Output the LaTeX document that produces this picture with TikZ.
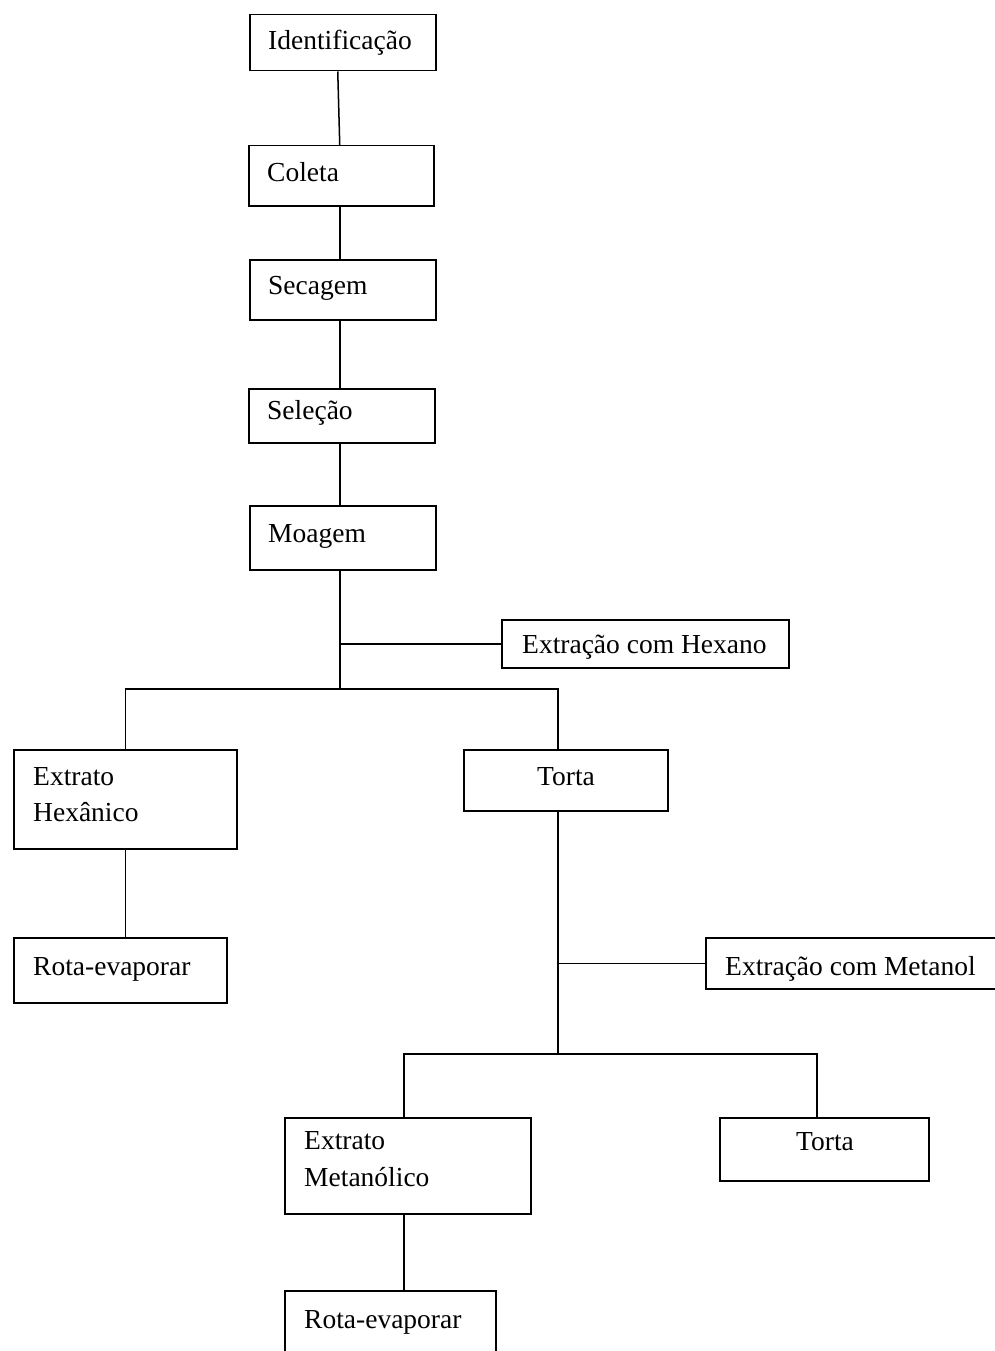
\documentclass[tikz,border=0pt]{standalone}
\usepackage{fontspec}
\setmainfont{Liberation Serif}
\tikzset{
  box/.style={draw, line width=1.5pt, rectangle, inner sep=0pt, anchor=north west},
  lbl/.style={anchor=base west, inner sep=0pt, font=\fontsize{27.5}{33}\selectfont},
  lblc/.style={anchor=base, inner sep=0pt, font=\fontsize{27.5}{33}\selectfont},
  conn/.style={line width=1.5pt}
}
\begin{document}
\begin{tikzpicture}[x=1pt,y=-1pt]
\useasboundingbox (0,0) rectangle (995,1351);
% boxes
\node[box, minimum width=186pt, minimum height=56pt] (idf) at (249,14) {};
\node[box, minimum width=185pt, minimum height=60pt] (col) at (248,145) {};
\node[box, minimum width=186pt, minimum height=60pt] (sec) at (249,259) {};
\node[box, minimum width=186pt, minimum height=54pt] (sel) at (248,388) {};
\node[box, minimum width=186pt, minimum height=64pt] (moa) at (249,505) {};
\node[box, minimum width=287pt, minimum height=48pt] (hex) at (501,619) {};
\node[box, minimum width=223pt, minimum height=99pt] (eh) at (13,749) {};
\node[box, minimum width=204pt, minimum height=61pt] (to1) at (463,749) {};
\node[box, minimum width=213pt, minimum height=65pt] (re1) at (13,937) {};
\node[box, minimum width=300pt, minimum height=51pt] (met) at (705,937) {};
\node[box, minimum width=246pt, minimum height=96pt] (em) at (284,1117) {};
\node[box, minimum width=209pt, minimum height=63pt] (to2) at (719,1117) {};
\node[box, minimum width=211pt, minimum height=70pt] (re2) at (284,1290) {};
% texts
\node[lbl] (tidf) at (268,50) {Identificação};
\node[lbl] (tcol) at (267,182) {Coleta};
\node[lbl] (tsec) at (268,294) {Secagem};
\node[lbl] (tsel) at (267,419) {Seleção};
\node[lbl] (tmoa) at (268,542) {Moagem};
\node[lbl] (thex) at (522,653) {Extração com Hexano};
\node[lbl] (teh1) at (33,785) {Extrato};
\node[lbl] (teh2) at (33,821) {Hexânico};
\node[lblc] (tto1) at (566,785) {Torta};
\node[lbl] (tre1) at (33,975) {Rota-evaporar};
\node[lbl] (tmet) at (725,975) {Extração com Metanol};
\node[lbl] (tem1) at (304,1149) {Extrato};
\node[lbl] (tem2) at (304,1186) {Metanólico};
\node[lblc] (tto2) at (825,1150) {Torta};
\node[lbl] (tre2) at (304,1328) {Rota-evaporar};
% junction coordinates
\coordinate (sp) at (340,0);
\coordinate (c1) at (558,0);
\coordinate (c2) at (404,0);
\coordinate (c3) at (817,0);
\coordinate (j1) at (340,689);
\coordinate (j2) at (558,1054);
% connectors
\draw[conn] ([xshift=-5pt]idf.south) -- ([xshift=-1.5pt]col.north);
\draw[conn] (sp |- col.south) -- (sp |- sec.north);
\draw[conn] (sp |- sec.south) -- (sp |- sel.north);
\draw[conn] (sp |- sel.south) -- (sp |- moa.north);
\draw[conn] (sp |- moa.south) -- (j1);
\draw[conn] (hex.west) -- (hex.west -| sp);
\draw[conn] (eh.north) |- (c1 |- j1) -- (c1 |- to1.north);
\draw[conn] (eh.south) -- (eh.south |- re1.north);
\draw[conn] (c1 |- to1.south) -- (j2);
\draw[conn] (met.west) -- (met.west -| c1);
\draw[conn] (c2 |- em.north) |- (c3 |- j2) -- (c3 |- to2.north);
\draw[conn] (c2 |- em.south) -- (c2 |- re2.north);
\end{tikzpicture}
\end{document}
